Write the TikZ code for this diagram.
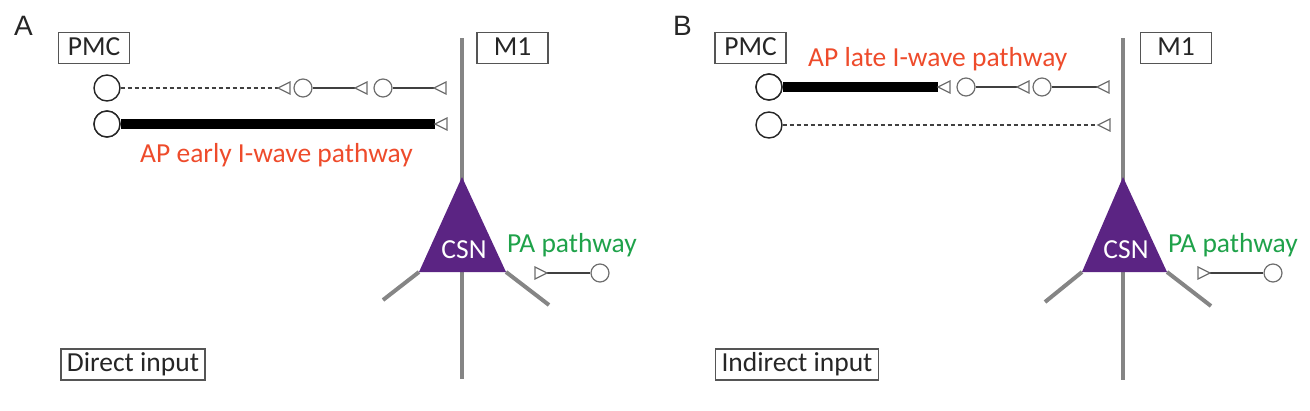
\documentclass[tikz,border=0pt]{standalone}
\usepackage{fontspec}
\setmainfont{Carlito}
\newfontfamily\arialf{Liberation Sans}
\definecolor{apred}{HTML}{EE4B2B}
\definecolor{pagreen}{HTML}{1FA24A}
\definecolor{csnpurple}{HTML}{5B2483}
\definecolor{nrngray}{HTML}{858585}
\definecolor{boxgray}{HTML}{555555}
\definecolor{syngray}{HTML}{6E6E6E}
\newcommand{\fsz}{\fontsize{27.5}{30}\selectfont}
\tikzset{
  lbl/.style={draw=boxgray, line width=1.4pt, inner xsep=6pt, inner ysep=3.5pt, text height=19pt, text depth=5pt, text=black!85, font=\fsz},
  panel/.style={font=\arialf\fontsize{28}{30}\selectfont, anchor=base west, inner sep=0pt, text=black!85},
  bigc/.style={circle, draw=black!85, line width=1.4pt, minimum size=26pt, inner sep=0pt, fill=white},
  smc/.style={circle, draw=syngray, line width=1.2pt, minimum size=18pt, inner sep=0pt, fill=white},
  syn/.style={draw=syngray, line width=1.2pt, fill=white, line join=miter},
  conn/.style={draw=black!75, line width=1.3pt},
  dconn/.style={draw=black!75, line width=1.3pt, dash pattern=on 4pt off 3pt},
  thick conn/.style={draw=black, line width=10.5pt},
  neurite/.style={draw=nrngray, line width=4pt},
  redlbl/.style={font=\fsz, text=apred, anchor=base west, inner sep=0pt},
  greenlbl/.style={font=\fsz, text=pagreen, anchor=base west, inner sep=0pt},
  csnlbl/.style={font=\fsz, text=white, anchor=base, inner sep=0pt},
}
\begin{document}
\begin{tikzpicture}[x=1pt, y=-1pt]
\useasboundingbox (0,0) rectangle (1310,410);

% ================= Panel A =================
\node[panel] (labA) at (14,35) {A};
\node[lbl, minimum width=71pt] (pmcA) at (94,48) {PMC};
\node[lbl, minimum width=71pt] (m1A) at (512.5,48) {M1};
\node[lbl] (dirA) at (133,364.5) {Direct input};

% neuron A
\coordinate (topA) at (462,38);
\coordinate (botA) at (462,379);
\coordinate (apexA) at (462,177);
\coordinate (blA) at (419,272);
\coordinate (brA) at (506,272);
\coordinate (dlA) at (383,300);
\coordinate (drA) at (549,305);
\draw[neurite] (topA) -- (botA);
\draw[neurite] (blA) -- (dlA);
\draw[neurite] (brA) -- (drA);
\fill[csnpurple] (apexA) -- (blA) -- (brA) -- cycle;
\node[csnlbl] (csnA) at (464,258) {CSN};

% row 1 A
\node[bigc] (a1c0) at (107,88) {};
\coordinate (a1t1) at (278,88);
\node[smc] (a1c1) at (303,88) {};
\coordinate (a1t2) at (355,88);
\node[smc] (a1c2) at (383,88) {};
\coordinate (a1t3) at (434,88);
\draw[dconn] (a1c0) -- (a1t1);
\draw[conn] (a1c1) -- (a1t2);
\draw[conn] (a1c2) -- (a1t3);
\draw[syn] (a1t1) -- ++(12,-6) -- ++(0,12) -- cycle;
\draw[syn] (a1t2) -- ++(12,-6) -- ++(0,12) -- cycle;
\draw[syn] (a1t3) -- ++(12,-6) -- ++(0,12) -- cycle;

% row 2 A
\node[bigc] (a2c0) at (107,124) {};
\coordinate (a2t1) at (435,124);
\draw[thick conn] (a2c0) -- (a2t1);
\draw[syn] (a2t1) -- ++(12,-6) -- ++(0,12) -- cycle;
\node[bigc] at (a2c0) {};
\node[redlbl] (earlyA) at (140,162) {AP early I-wave pathway};

% PA pathway A
\node[greenlbl] (paA) at (507,252) {PA pathway};
\coordinate (pAt) at (547,273);
\node[smc] (pAc) at (600,273) {};
\draw[conn] (pAt) -- (pAc);
\draw[syn] (pAt) -- ++(-12,-6) -- ++(0,12) -- cycle;

% ================= Panel B =================
\node[panel] (labB) at (673,35) {B};
\node[lbl, minimum width=71pt] (pmcB) at (750.5,48) {PMC};
\node[lbl, minimum width=71pt] (m1B) at (1176,48) {M1};
\node[lbl] (indB) at (797,364.5) {Indirect input};

% neuron B
\coordinate (topB) at (1123,38);
\coordinate (botB) at (1123,380);
\coordinate (apexB) at (1123,177);
\coordinate (blB) at (1082,272);
\coordinate (brB) at (1167,272);
\coordinate (dlB) at (1045,302);
\coordinate (drB) at (1211,306);
\draw[neurite] (topB) -- (botB);
\draw[neurite] (blB) -- (dlB);
\draw[neurite] (brB) -- (drB);
\fill[csnpurple] (apexB) -- (blB) -- (brB) -- cycle;
\node[csnlbl] (csnB) at (1126,258) {CSN};

% row 1 B
\node[bigc] (b1c0) at (769,87) {};
\coordinate (b1t1) at (938,87);
\node[smc] (b1c1) at (966,87) {};
\coordinate (b1t2) at (1017,87);
\node[smc] (b1c2) at (1042,87) {};
\coordinate (b1t3) at (1097,87);
\draw[thick conn] (b1c0) -- (b1t1);
\node[bigc] at (b1c0) {};
\draw[conn] (b1c1) -- (b1t2);
\draw[conn] (b1c2) -- (b1t3);
\draw[syn] (b1t1) -- ++(12,-6) -- ++(0,12) -- cycle;
\draw[syn] (b1t2) -- ++(12,-6) -- ++(0,12) -- cycle;
\draw[syn] (b1t3) -- ++(12,-6) -- ++(0,12) -- cycle;
\node[redlbl] (lateB) at (808,66) {AP late I-wave pathway};

% row 2 B
\node[bigc] (b2c0) at (769,125) {};
\coordinate (b2t1) at (1098,125);
\draw[dconn] (b2c0) -- (b2t1);
\draw[syn] (b2t1) -- ++(12,-6) -- ++(0,12) -- cycle;

% PA pathway B
\node[greenlbl] (paB) at (1168,252) {PA pathway};
\coordinate (pBt) at (1210,273);
\node[smc] (pBc) at (1273,273) {};
\draw[conn] (pBt) -- (pBc);
\draw[syn] (pBt) -- ++(-12,-6) -- ++(0,12) -- cycle;
\end{tikzpicture}
\end{document}
